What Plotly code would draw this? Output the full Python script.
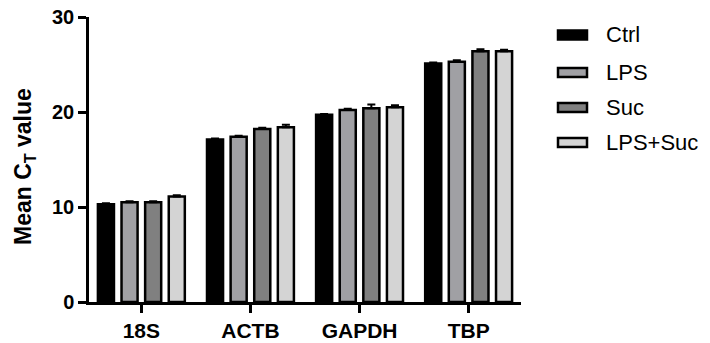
import plotly.graph_objects as go

genes = ["18S", "ACTB", "GAPDH", "TBP"]
groups = ["Ctrl", "LPS", "Suc", "LPS+Suc"]
ctrl = [10.3, 17.1, 19.7, 25.1]
lps = [10.5, 17.4, 20.2, 25.3]
suc = [10.5, 18.2, 20.4, 26.4]
lps_suc = [11.1, 18.4, 20.5, 26.4]
ctrl_err = [0.1, 0.1, 0.1, 0.1]
lps_err = [0.1, 0.1, 0.15, 0.15]
suc_err = [0.1, 0.15, 0.4, 0.2]
lps_suc_err = [0.15, 0.25, 0.2, 0.15]
y_ticks = [0, 10, 20, 30]

values = [ctrl, lps, suc, lps_suc]
errors = [ctrl_err, lps_err, suc_err, lps_suc_err]
colors = ["#000000", "#A0A0A4", "#808080", "#D4D4D4"]

FONT = "Liberation Sans, Arial, sans-serif"

fig = go.Figure()
for name, vals, errs, col in zip(groups, values, errors, colors):
    fig.add_trace(go.Bar(
        x=genes, y=vals, name=name,
        marker=dict(color=col, line=dict(color="black", width=2.5)),
        error_y=dict(type="data", array=errs, arrayminus=[0] * len(errs),
                     symmetric=False, color="black", thickness=2, width=4),
        showlegend=False,
    ))

# manual legend (wide swatches like the reference)
L, R, T, B = 89, 189, 17, 41
W, H = 710 - L - R, 343 - T - B
centers = [35, 72.5, 107.5, 142.5]
for name, col, cy in zip(groups, colors, centers):
    y0 = (343 - B - cy - 4.5) / H
    y1 = (343 - B - cy + 4.5) / H
    fig.add_shape(type="rect", xref="paper", yref="paper",
                  x0=(558 - L) / W, x1=(587 - L) / W, y0=y0, y1=y1,
                  fillcolor=col, line=dict(color="black", width=2.5))
    fig.add_annotation(x=(604 - L) / W, y=(343 - B - cy) / H, xref="paper", yref="paper",
                       text=name, showarrow=False, xanchor="left", yanchor="middle",
                       font=dict(family=FONT, size=22, color="black"))

# y-axis title
fig.add_annotation(x=(24 - L) / W, y=(343 - B - 167) / H, xref="paper", yref="paper",
                   text="<b>Mean C<sub>T</sub> value</b>", showarrow=False, textangle=-90,
                   xanchor="center", yanchor="middle",
                   font=dict(family=FONT, size=23, color="black"))

fig.update_layout(
    width=710, height=343,
    margin=dict(l=L, r=R, t=T, b=B, autoexpand=False),
    paper_bgcolor="white", plot_bgcolor="white",
    barmode="group", bargap=0.134, bargroupgap=0.32,
    font=dict(family=FONT, color="black"),
)
fig.update_xaxes(
    range=[-0.48, 3.48], showline=True, linewidth=2.5, linecolor="black",
    ticks="outside", ticklen=8, tickwidth=2.5, tickcolor="black",
    tickfont=dict(family=FONT, size=21, color="black", weight="bold"),
    showgrid=False, zeroline=False, automargin=False,
)
fig.update_yaxes(
    range=[0, 30], tickvals=y_ticks, showline=True, linewidth=2.5, linecolor="black",
    ticks="outside", ticklen=8, tickwidth=2.5, tickcolor="black",
    tickfont=dict(family=FONT, size=20, color="black", weight="bold"),
    showgrid=False, zeroline=False, automargin=False,
)
fig.write_html("out.html", config={"displayModeBar": False},
               post_script="document.body.style.margin='0';document.body.style.overflow='hidden';")
